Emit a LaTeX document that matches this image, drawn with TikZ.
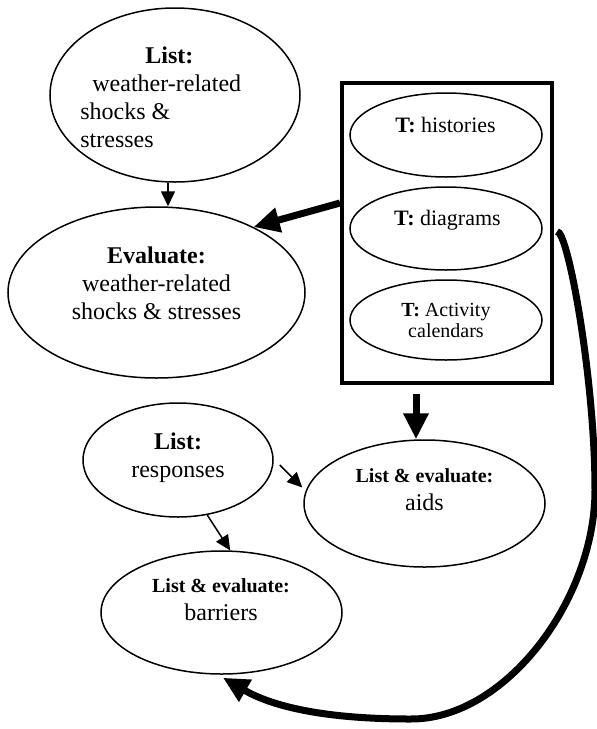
\documentclass[tikz,border=0pt]{standalone}
\usepackage{fontspec}
\setmainfont{Liberation Serif}
\usetikzlibrary{arrows.meta, positioning, calc, shapes.geometric}

\begin{document}
\begin{tikzpicture}[x=0.5pt, y=-0.5pt,
    oval/.style={draw, ellipse, line width=0.75pt, inner sep=0pt},
    txt/.style={inner sep=0pt, align=center, font=\fontsize{12}{14}\selectfont},
    ttxt/.style={txt, font=\fontsize{11}{13}\selectfont},
    tsmall/.style={txt, font=\fontsize{10}{10.5}\selectfont},
    thinarrow/.style={line width=0.75pt, -{Triangle[length=7.5pt, width=7pt]}},
    bigarrow/.style={line width=3.5pt, -{Triangle[length=13pt, width=12pt]}}]
    \useasboundingbox (0,0) rectangle (597,729);

    % left column
    \node[oval, minimum width=125pt, minimum height=87pt] (list1) at (175,95) {};
    \node[txt, anchor=west, align=left] (list1txt) at (80,97.5) {\hspace*{32.5pt}\textbf{List:}\\\hspace*{6pt}weather-related\\shocks \&\\stresses};

    \node[oval, minimum width=148.5pt, minimum height=85.5pt] (eval) at (156.5,292.5) {};
    \node[txt] (evaltxt) at (156.5,283) {\textbf{Evaluate:}\\weather-related\\shocks \& stresses};

    % tools box
    \node[draw, line width=2pt, minimum width=105pt, minimum height=150pt, inner sep=0pt] (tbox) at (447,233) {};
    \node[oval, minimum width=96pt, minimum height=42pt] (th) at (446,135) {};
    \node[ttxt] (thtxt) at (445.5,125.5) {\textbf{T:} histories};
    \node[oval, minimum width=96pt, minimum height=41.5pt] (td) at (446,228.5) {};
    \node[ttxt] (tdtxt) at (447.5,220) {\textbf{T:} diagrams};
    \node[oval, minimum width=96pt, minimum height=40pt] (ta) at (446,320) {};
    \node[tsmall] (tatxt) at (446,320.5) {\textbf{T:} Activity\\calendars};

    % lower part
    \node[oval, minimum width=95pt, minimum height=57pt] (resp) at (178,460) {};
    \node[txt] (resptxt) at (178,457.5) {\textbf{List:}\\responses};
    \node[oval, minimum width=120.5pt, minimum height=63.5pt] (aids) at (424.5,503.5) {};
    \node[txt] (aidstxt) at (424.5,489.5) {{\fontsize{10}{12}\selectfont\bfseries List \& evaluate:}\\aids};
    \node[oval, minimum width=120.5pt, minimum height=61.5pt] (barr) at (221.5,612.5) {};
    \node[txt] (barrtxt) at (221,600) {{\fontsize{10}{12}\selectfont\bfseries List \& evaluate:}\\barriers};

    % connectors
    \coordinate (listfoot) at ($(list1.south)+(-7,0)$);
    \coordinate (boxfoot) at ($(tbox.south)+(-31,9)$);
    \draw[thinarrow] (listfoot) -- (listfoot |- eval.north);
    \draw[thinarrow] ($(resp.east)+(6,5)$) -- ($(aids.west)+(-1,-16)$);
    \draw[thinarrow] (resp.-62) -- (barr.82);
    \draw[bigarrow] ($(tbox.west)+(0,-30)$) -- (eval.34);
    \draw[bigarrow] (boxfoot) -- (boxfoot |- aids.north);
    \draw[bigarrow] ($(tbox.east |- td.east)+(3,3)$) .. controls (568,230) and (595,380) .. (595,490)
        .. controls (595,600) and (505,720) .. (410,719)
        .. controls (330,719) and (275,708) .. ($(barr.south)+(1.5,3)$);
\end{tikzpicture}
\end{document}
